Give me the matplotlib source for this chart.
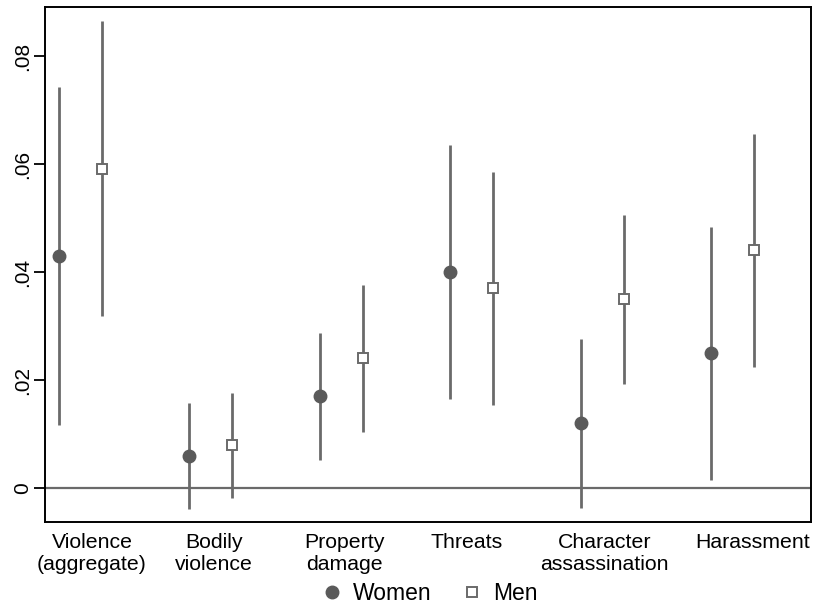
import matplotlib
matplotlib.use("Agg")
import matplotlib.pyplot as plt
from matplotlib.lines import Line2D
import numpy as np

plt.rcParams['font.family'] = ['Liberation Sans', 'DejaVu Sans']

categories = ["Violence\n(aggregate)", "Bodily\nviolence", "Property\ndamage",
              "Threats", "Character\nassassination", "Harassment"]
women_est = [0.043, 0.006, 0.017, 0.040, 0.012, 0.025]
women_lo = [0.0117, -0.0039, 0.0052, 0.0165, -0.0037, 0.0015]
women_hi = [0.0743, 0.0157, 0.0287, 0.0635, 0.0276, 0.0484]
men_est = [0.059, 0.008, 0.024, 0.037, 0.035, 0.044]
men_lo = [0.0318, -0.0019, 0.0104, 0.0154, 0.0193, 0.0224]
men_hi = [0.0865, 0.0176, 0.0376, 0.0585, 0.0506, 0.0655]
yticks = [0, 0.02, 0.04, 0.06, 0.08]
yticklabels = ["0", ".02", ".04", ".06", ".08"]

line_c = "#6a6a6a"
mark_c = "#5a5a5a"

fig = plt.figure(figsize=(8.14, 6.07), dpi=100)
ax = fig.add_axes([45/814, 1-522/607, (811-45)/814, (522-7)/607])

x = np.arange(1, len(categories)+1)
off = 0.165
xw = x - off
xm = x + off

ax.axhline(0, color=line_c, lw=1.6, zorder=1)
ax.vlines(xw, women_lo, women_hi, color=line_c, lw=2.0, zorder=2)
ax.vlines(xm, men_lo, men_hi, color=line_c, lw=2.0, zorder=2)
ax.plot(xw, women_est, 'o', ms=9, color=mark_c, mec=mark_c, zorder=3, label="Women")
ax.plot(xm, men_est, 's', ms=7.8, mfc='white', mec=line_c, mew=1.4, zorder=3, label="Men")

ax.set_xlim(0.728, 6.601)
ax.set_ylim(-0.0063, 0.0891)
ax.set_yticks(yticks)
ax.set_yticklabels(yticklabels, rotation=90, va='center', fontsize=15)
ax.set_xticks([])
# category labels (shifted like the reference's label placement)
label_shift = [0.088, 0.02, 0.025, -0.04, 0.02, 0.157]
for xi, lab, sh in zip(x, categories, label_shift):
    ax.annotate(lab, xy=(xi + sh, 0), xycoords=('data', 'axes fraction'),
                xytext=(0, -8), textcoords='offset points',
                ha='center', va='top', fontsize=15.3, linespacing=1.2,
                annotation_clip=False)
ax.tick_params(axis='y', length=8, width=1.3, pad=1.5)
for s in ax.spines.values():
    s.set_linewidth(1.4)

handles = [Line2D([], [], marker='o', ls='none', ms=9, color=mark_c),
           Line2D([], [], marker='s', ls='none', ms=7.8, mfc='white', mec=line_c, mew=1.4)]
fig.legend(handles, ["Women", "Men"], loc='center', bbox_to_anchor=(429/814, 1-594/607),
           ncol=2, frameon=False, fontsize=16.5, handletextpad=0.4, columnspacing=1.3,
           handlelength=1.0)

fig.savefig("out.png", dpi=100, facecolor='white')
